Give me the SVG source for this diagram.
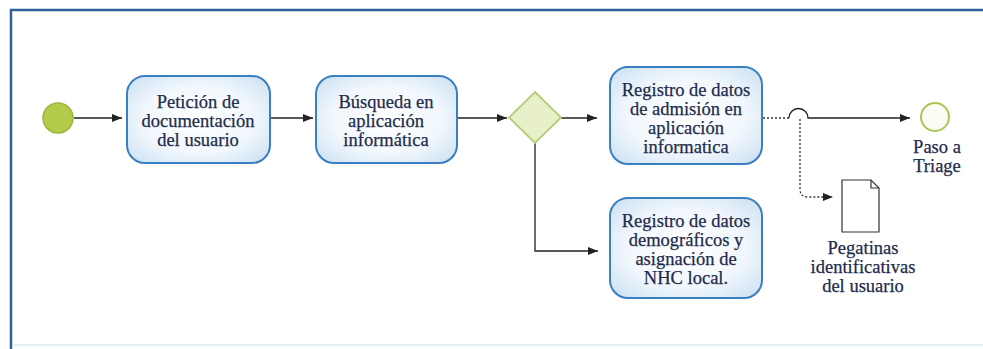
<svg xmlns="http://www.w3.org/2000/svg" width="983" height="349" viewBox="0 0 983 349">
<style>
.task{fill:url(#tg);stroke:#3a7fc2;stroke-width:2}
.t{font-family:"Liberation Serif","Times New Roman",serif;font-size:18.5px;fill:#1e2b4c;text-anchor:middle;stroke:#1e2b4c;stroke-width:0.25}
.c{stroke:#222;stroke-width:1.3;fill:none}
.d{stroke:#333;stroke-width:1.3;fill:none;stroke-dasharray:2 2}
</style>
<defs>
<radialGradient id="tg" cx="50%" cy="50%" r="65%">
<stop offset="0" stop-color="#ffffff"/><stop offset="0.6" stop-color="#f1f7fc"/><stop offset="1" stop-color="#cfe3f4"/>
</radialGradient>
<marker id="ah" viewBox="0 0 10 10" refX="10" refY="5" markerWidth="10" markerHeight="10" markerUnits="userSpaceOnUse" orient="auto">
<path d="M0,1 L10,5 L0,9 z" fill="#222"/>
</marker>
</defs>
<rect width="983" height="349" fill="#ffffff"/>
<g id="frame">
<path d="M11,349 L11,10 L983,10" fill="none" stroke="#2f5f96" stroke-width="2.5"/>
<line x1="14" y1="345" x2="983" y2="345" stroke="#dde6ee" stroke-width="1.5"/>
</g>
<g id="connectors">
<line class="c" x1="74" y1="118" x2="122" y2="118" marker-end="url(#ah)"/>
<line class="c" x1="270" y1="118" x2="313" y2="118" marker-end="url(#ah)"/>
<line class="c" x1="457" y1="118" x2="507" y2="118" marker-end="url(#ah)"/>
<line class="c" x1="561" y1="118" x2="597" y2="118" marker-end="url(#ah)"/>
<path class="c" d="M535,143 L535,251 L598,251" marker-end="url(#ah)"/>
<line class="d" x1="763" y1="118" x2="789" y2="118"/>
<path class="c" d="M789,118 A9.5,9.5 0 0 1 808,118 L910,118" marker-end="url(#ah)"/>
<path class="d" d="M800,119 L800,189 Q800,197 808,197 L833,197" marker-end="url(#ah)"/>
</g>
<g id="start">
<circle cx="58" cy="118" r="15" fill="#b4cc4c" stroke="#9db53a" stroke-width="1.5"/>
</g>
<g id="task1">
<rect class="task" x="127" y="76" width="143" height="87" rx="18"/>
<text class="t" x="198" y="108">Petición de</text>
<text class="t" x="198" y="127">documentación</text>
<text class="t" x="198" y="146">del usuario</text>
</g>
<g id="task2">
<rect class="task" x="316" y="76" width="141" height="87" rx="18"/>
<text class="t" x="386" y="108">Búsqueda en</text>
<text class="t" x="386" y="127">aplicación</text>
<text class="t" x="386" y="146">informática</text>
</g>
<g id="gateway">
<path d="M535,92 L561,117.5 L535,143 L509,117.5 z" fill="#e7f0c9" stroke="#b4cd78" stroke-width="1.8"/>
</g>
<g id="task3">
<rect class="task" x="610" y="67" width="152" height="97" rx="18"/>
<text class="t" x="686" y="96">Registro de datos</text>
<text class="t" x="686" y="115">de admisión en</text>
<text class="t" x="686" y="134">aplicación</text>
<text class="t" x="686" y="153">informatica</text>
</g>
<g id="task4">
<rect class="task" x="610" y="198" width="152" height="100" rx="18"/>
<text class="t" x="686" y="227">Registro de datos</text>
<text class="t" x="686" y="246">demográficos y</text>
<text class="t" x="686" y="265">asignación de</text>
<text class="t" x="686" y="284">NHC local.</text>
</g>
<g id="end">
<circle cx="935" cy="117" r="14" fill="#fbfdf4" stroke="#a9c654" stroke-width="2"/>
<text class="t" x="937" y="153">Paso a</text>
<text class="t" x="937" y="172">Triage</text>
</g>
<g id="document">
<path d="M842,180 L871,180 L879,188 L879,232 L842,232 z" fill="#ffffff" stroke="#333" stroke-width="1.2"/>
<path d="M871,180 L871,188 L879,188" fill="none" stroke="#333" stroke-width="1.2"/>
<text class="t" x="863" y="254">Pegatinas</text>
<text class="t" x="863" y="273">identificativas</text>
<text class="t" x="863" y="292">del usuario</text>
</g>
</svg>
